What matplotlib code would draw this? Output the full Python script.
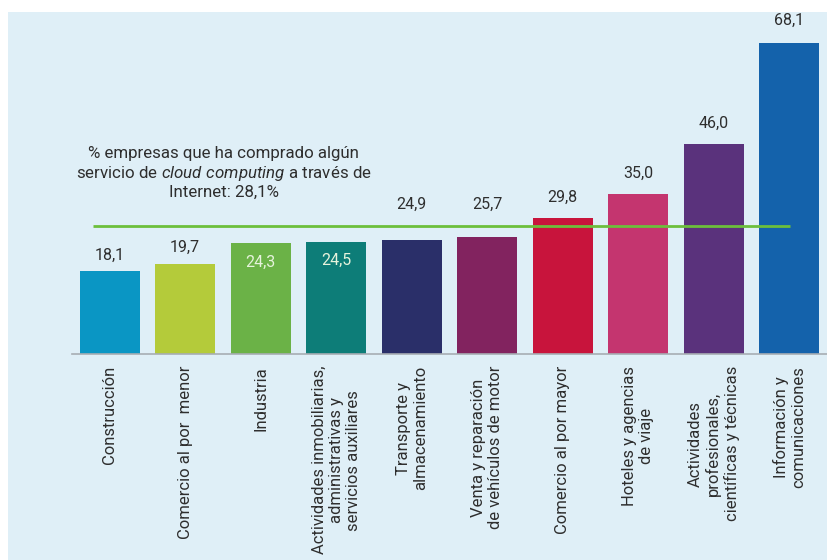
import matplotlib
matplotlib.use("Agg")
import matplotlib.pyplot as plt
from matplotlib.patches import Rectangle

plt.rcParams['font.family'] = ['Roboto', 'DejaVu Sans']
plt.rcParams['mathtext.fontset'] = 'custom'
plt.rcParams['mathtext.rm'] = 'Roboto'
plt.rcParams['mathtext.it'] = 'Roboto:italic'

# Sector data (% of companies that bought cloud computing services)
categories = [
    "Construcción",
    "Comercio al por  menor",
    "Industria",
    "Actividades inmobiliarias,\nadministrativas y\nservicios auxiliares",
    "Transporte y\nalmacenamiento",
    "Venta y reparación\nde vehículos de motor",
    "Comercio al por mayor",
    "Hoteles y agencias\nde viaje",
    "Actividades\nprofesionales,\ncientíficas y técnicas",
    "Información y\ncomunicaciones",
]
values = [18.1, 19.7, 24.3, 24.5, 24.9, 25.7, 29.8, 35.0, 46.0, 68.1]
value_labels = ["18,1", "19,7", "24,3", "24,5", "24,9", "25,7", "29,8", "35,0", "46,0", "68,1"]
average = 28.1

colors = ["#0a96c4", "#b4cb3a", "#6bb247", "#0d7d78", "#2a2f69",
          "#82235f", "#c8143c", "#c4356f", "#5a327c", "#1462ab"]

# Label placement: "above" the bar, "inside" the bar, or above the average "line"
label_mode = ["above", "above", "inside", "inside", "line", "line",
              "above", "above", "above", "above"]
label_gap_px = [16, 17, 19, 18, 0, 0, 21, 21, 21, 23]

W, H = 828, 560
fig = plt.figure(figsize=(W / 100, H / 100), dpi=100, facecolor="white")

# light blue panel behind the chart
fig.patches.append(Rectangle((8 / W, 0), 1 - 8 / W, (H - 12) / H,
                             transform=fig.transFigure, facecolor="#dfeff7",
                             edgecolor="none", zorder=-10))

base_y = 354
top_y = 12
ax = fig.add_axes([72 / W, (H - base_y) / H, 755 / W, (base_y - top_y) / H])
ax.set_facecolor("none")
ymax = (base_y - top_y) / 4.567
ax.set_ylim(0, ymax)
ax.set_xlim(-0.5, len(values) - 0.5)

x = list(range(len(values)))
ax.bar(x, values, width=0.8, color=colors, edgecolor="none", zorder=2)

for s in ["top", "right", "left"]:
    ax.spines[s].set_visible(False)
ax.spines["bottom"].set_color("#a7adb3")
ax.spines["bottom"].set_linewidth(1.2)
ax.set_yticks([])
ax.set_xticks([])

px = 0.72  # points per pixel at 100 dpi
for i, (v, lab, mode, gap) in enumerate(zip(values, value_labels, label_mode, label_gap_px)):
    if mode == "above":
        ax.annotate(lab, (i, v), xytext=(0, gap * px), textcoords="offset points",
                    ha="center", va="center", fontsize=11.5, color="#2e2e2e", zorder=4)
    elif mode == "inside":
        ax.annotate(lab, (i, v), xytext=(0, -gap * px), textcoords="offset points",
                    ha="center", va="center", fontsize=11.5, color="#e6f3dc", zorder=4)
    else:
        ax.annotate(lab, (i, average), xytext=(0, 21 * px), textcoords="offset points",
                    ha="center", va="center", fontsize=11.5, color="#2e2e2e", zorder=4)

# average reference line
ax.plot([-0.22, 9.01], [average, average], color="#6cbf3c", lw=2, zorder=5,
        solid_capstyle="butt")

ax.text(1.51, 39.6, "% empresas que ha comprado algún\n"
        r"servicio de $\mathit{cloud\ computing}$ a través de" "\nInternet: 28,1%",
        ha="center", va="center", multialignment="center", fontsize=12.2,
        color="#2e2e2e", linespacing=1.2, zorder=4)

# rotated category labels below the baseline
for i, c in enumerate(categories):
    ax.annotate(c, (i, 0), xycoords=("data", "axes fraction"),
                xytext=(0, -12 * px), textcoords="offset points",
                rotation=90, ha="center", va="top", multialignment="center",
                fontsize=12, color="#2e2e2e", linespacing=1.2)

fig.savefig("out.png", dpi=100, facecolor="white")
